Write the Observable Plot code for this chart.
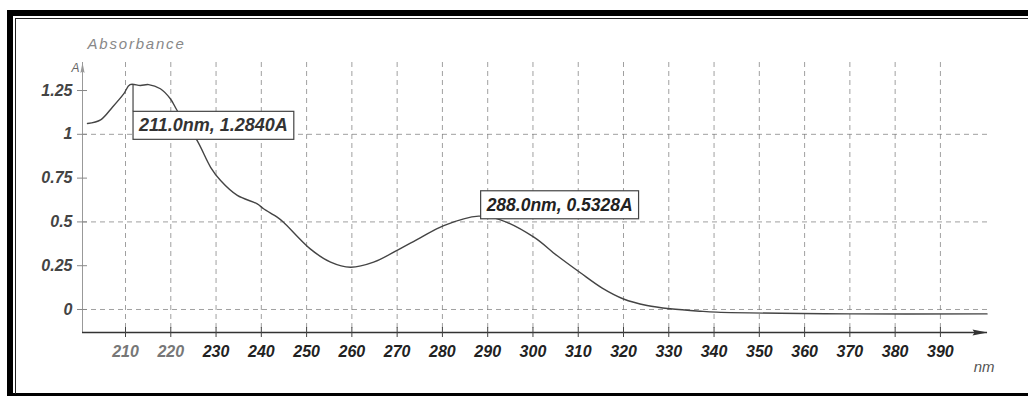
<!DOCTYPE html>
<html>
<head>
<meta charset="utf-8">
<script src="https://cdn.jsdelivr.net/npm/d3@7"></script>
<script src="https://cdn.jsdelivr.net/npm/@observablehq/plot@0.6"></script>
<style>
html, body { margin: 0; padding: 0; background: #fff; width: 1028px; height: 396px; overflow: hidden; }
#chart { position: absolute; left: 0; top: 0; }
#frame { position: absolute; left: 7px; top: 10px; width: 1040px; height: 377px;
  border-top: 6px solid #000; border-left: 6px solid #000; border-bottom: 3px solid #000; pointer-events: none; z-index: 2; }
#inner { position: absolute; left: 15px; top: 18px; width: 1040px; height: 375px;
  border-top: 1px solid #222; border-left: 1px solid #222; pointer-events: none; z-index: 2; }
</style>
</head>
<body>
<div id="chart"></div>
<div id="frame"></div>
<div id="inner"></div>
<script>
// ---- data ----
const wavelength = [201.6, 204.5, 207.1, 209.6, 211.0, 213.3, 215.1, 217.7, 219.9, 221.4,
  225.8, 228.8, 231.0, 234.7, 239.1, 240.5, 243.5, 244.9, 250.8,
  255.3, 259.7, 264.8, 270.3, 275.1, 280.3, 288.0, 292.8, 300.2,
  305.3, 310.4, 315.3, 320.0, 325.2, 330.3, 337.0, 340.6, 370.1, 400.3];
const absorbance = [1.062, 1.083, 1.155, 1.231, 1.284, 1.279, 1.284, 1.260, 1.203, 1.136,
  0.965, 0.812, 0.736, 0.651, 0.603, 0.575, 0.527, 0.498, 0.346,
  0.270, 0.241, 0.270, 0.342, 0.409, 0.479, 0.5328, 0.512, 0.413,
  0.308, 0.211, 0.122, 0.060, 0.023, 0.004, -0.010, -0.015, -0.025, -0.025];
const xTicks = [210, 220, 230, 240, 250, 260, 270, 280, 290, 300, 310, 320, 330, 340, 350, 360, 370, 380, 390];
const yTicks = [0, 0.25, 0.5, 0.75, 1, 1.25];
const yTickLabels = ["0", "0.25", "0.5", "0.75", "1", "1.25"];
const yGrid = [0, 0.5, 1];
const peakNm = [211.0, 288.0];
const peakA = [1.2840, 0.5328];
const xDomain = [200.5, 400.4];
const yDomain = [-0.1313, 1.41];

const spectrum = wavelength.map((w, i) => ({nm: w, A: absorbance[i]}));
const peaks = peakNm.map((w, i) => ({nm: w, A: peakA[i], label: `${w.toFixed(1)}nm, ${peakA[i].toFixed(4)}A`}));

const font = "'Liberation Sans', Arial, sans-serif";
const arrowHead = {
  draw(context, size) {
    const r = Math.sqrt(size / Math.PI);
    context.moveTo(0, 0);
    context.lineTo(-3 * r, -0.6 * r);
    context.lineTo(-2.6 * r, 0);
    context.lineTo(-3 * r, 0.6 * r);
    context.closePath();
  }
};
const tickLabelStyle = {tickSize: 0, fontSize: 16, fontStyle: "italic", fontWeight: "bold", fontFamily: font};

const chart = Plot.plot({
  width: 1028,
  height: 396,
  marginLeft: 82,
  marginRight: 41,
  marginTop: 62,
  marginBottom: 64,
  style: {background: "transparent", fontFamily: font},
  x: {domain: xDomain},
  y: {domain: yDomain},
  marks: [
    Plot.gridX(xTicks, {stroke: "#777", strokeOpacity: 0.7, strokeDasharray: "5,4"}),
    Plot.gridY(yGrid, {stroke: "#777", strokeOpacity: 0.7, strokeDasharray: "5,4"}),
    // axis lines
    Plot.ruleX([xDomain[0]], {stroke: "#999", strokeWidth: 1}),
    Plot.ruleY([yDomain[0]], {stroke: "#333", strokeWidth: 1.6}),
    Plot.dot([{x: xDomain[1], y: yDomain[0]}], {x: "x", y: "y", symbol: arrowHead, r: 5, fill: "#333", stroke: null}),
    Plot.dot([{x: xDomain[0], y: yDomain[1]}], {x: "x", y: "y", symbol: arrowHead, r: 3.5, rotate: -90, fill: "#999", stroke: null}),
    // ticks crossing the axes
    Plot.axisX(xTicks, {tickSize: 10, dy: -5, tickFormat: () => "", stroke: "#444"}),
    Plot.axisY(yTicks, {tickSize: 10, dx: 5, tickFormat: () => "", stroke: "#888"}),
    // tick labels
    Plot.axisX(xTicks.filter(d => d <= 220), {...tickLabelStyle, tickPadding: 13, fill: "#777"}),
    Plot.axisX(xTicks.filter(d => d > 220), {...tickLabelStyle, tickPadding: 13, fill: "#222"}),
    Plot.axisY(yTicks, {...tickLabelStyle, tickPadding: 10,
      tickFormat: d => yTickLabels[yTicks.indexOf(d)],
      fill: "#444"}),
    // spectrum
    Plot.line(spectrum, {x: "nm", y: "A", curve: "catmull-rom", stroke: "#444", strokeWidth: 1.4}),
    // axis titles
    Plot.text(["Absorbance"], {frameAnchor: "top-left", dx: 5, dy: -24, textAnchor: "start",
      fontSize: 15, fontStyle: "italic", fill: "#888", fontFamily: font}),
    Plot.text(["A"], {frameAnchor: "top-left", dx: -11, dy: 1, fontSize: 12, fontStyle: "italic", fill: "#666", fontFamily: font}),
    Plot.text(["nm"], {frameAnchor: "bottom-right", dx: 7, dy: 39, fontSize: 15, fontStyle: "italic", fill: "#555", fontFamily: font}),
    // peak annotations
    Plot.text(peaks.slice(0, 1), {x: "nm", y: "A", text: "label", dx: 9, dy: 41, textAnchor: "start",
      fontSize: 18, fontStyle: "italic", fontWeight: "bold", fill: "#333", fontFamily: font}),
    Plot.text(peaks.slice(1), {x: "nm", y: "A", text: "label", dx: 8, dy: -11, textAnchor: "start",
      fontSize: 17.5, fontStyle: "italic", fontWeight: "bold", fill: "#222", fontFamily: font})
  ]
});
document.getElementById("chart").appendChild(chart);

// boxes around the peak labels, plus the leader of the first one
const ns = "http://www.w3.org/2000/svg";
const svg = chart.tagName.toLowerCase() === "svg" ? chart : chart.querySelector("svg");
const sr = svg.getBoundingClientRect();
const ys = chart.scale("y");
svg.querySelectorAll("text").forEach(t => {
  if (t.textContent === "Absorbance") t.style.letterSpacing = "1.8px";
  if (!/nm, /.test(t.textContent)) return;
  const r = t.getBoundingClientRect();
  const x0 = r.left - sr.left - 5, y0 = r.top - sr.top - 4;
  const group = t.closest("g");
  const rect = document.createElementNS(ns, "rect");
  rect.setAttribute("x", x0);
  rect.setAttribute("y", y0);
  rect.setAttribute("width", r.width + 11);
  rect.setAttribute("height", r.height + 8);
  rect.setAttribute("fill", "#fff");
  rect.setAttribute("stroke", "#444");
  rect.setAttribute("stroke-width", "1.2");
  svg.insertBefore(rect, group);
  if (t.textContent.startsWith("211")) {
    const line = document.createElementNS(ns, "line");
    line.setAttribute("x1", x0); line.setAttribute("x2", x0);
    line.setAttribute("y1", ys.apply(peakA[0])); line.setAttribute("y2", y0);
    line.setAttribute("stroke", "#444");
    line.setAttribute("stroke-width", "1.2");
    svg.insertBefore(line, group);
  }
});
</script>
</body>
</html>
